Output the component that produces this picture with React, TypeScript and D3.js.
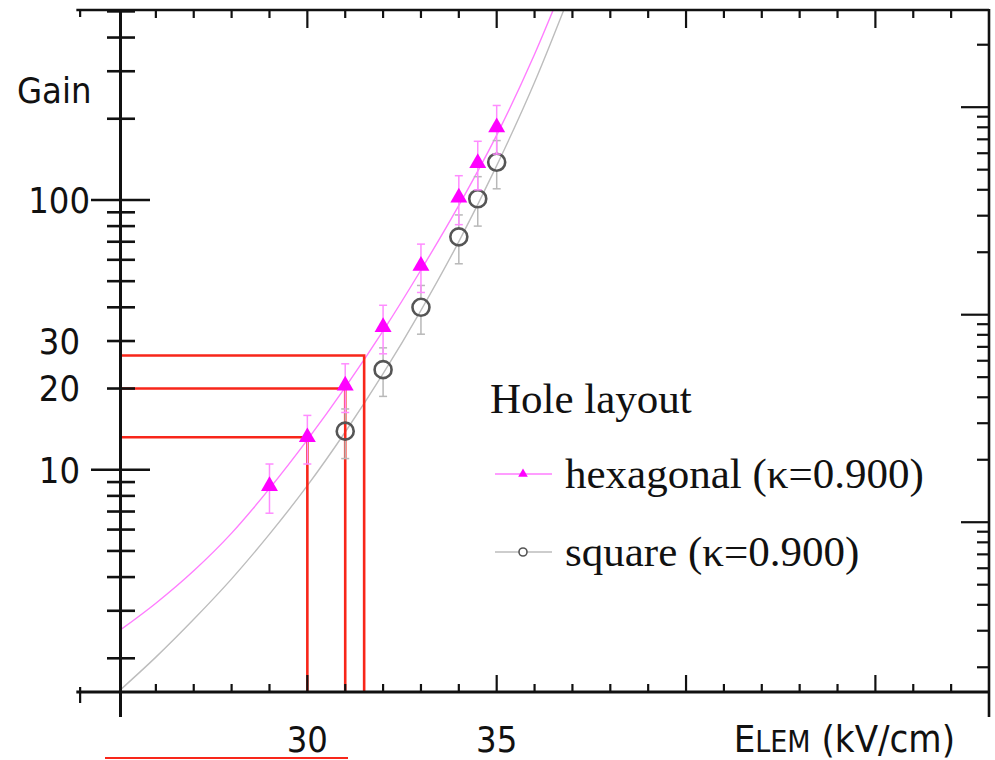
import React from "react";
import * as d3 from "d3";

// Measured points (E in kV/cm, gain)
const hexE = [29, 30, 31, 32, 33, 34, 34.5, 35];
const hexGain = [8.7, 13.2, 20.5, 33.8, 57, 102, 137, 186];
const hexErr = [1.8, 2.7, 4.2, 6.9, 11.6, 21, 28, 38];
const sqE = [31, 32, 33, 34, 34.5, 35];
const sqGain = [13.9, 23.5, 40, 73, 101, 138];
const sqErr = [2.9, 4.8, 8.2, 15, 21, 28];

// Fit curves
const fitE = [25, 26, 27, 28, 29, 30, 31, 32, 33, 34, 35, 36, 37];
const hexFit = [2.51, 3.2, 4.22, 5.82, 8.51, 12.9, 20.2, 32.7, 55.0, 95.5, 174, 347, 759];
const sqFit = [1.5, 2.02, 2.79, 3.94, 5.77, 8.73, 13.8, 22.7, 39.0, 70.1, 134, 273, 611];

// Red guide lines
const markE = [30, 31, 31.5];
const markGain = [13.2, 20, 26.5];

// Axes
const xTickValues = d3.range(24, 48);
const xMajorValues = [30, 35, 40, 45];
const xLabelValues = [30, 35];
const yLabelValues = [10, 20, 30, 100];
const yMajorValues = [10, 100];
const rightMajorValues = [1, 10, 100];

const legendTitle = "Hole layout";
const legendHex = "hexagonal (κ=0.900)";
const legendSq = "square (κ=0.900)";

const SANS = "'DejaVu Sans Condensed', 'DejaVu Sans', sans-serif";
const SERIF = "'Liberation Serif', 'Times New Roman', serif";

function logTicks(lo: number, hi: number) {
  const out: number[] = [];
  for (let d = -2; d <= 4; d++) {
    for (let m = 1; m <= 9; m++) {
      const v = m * Math.pow(10, d);
      if (v >= lo && v <= hi) out.push(v);
    }
  }
  return out;
}

export default function App() {
  const W = 995;
  const H = 760;
  const x = d3.scaleLinear().domain([25, 48]).range([118, 989]);
  const yL = d3.scaleLog().domain([1.5, 506]).range([692, 10]);
  const yR = d3.scaleLog().domain([0.152, 294]).range([692, 10]);

  const top = 10;
  const bottom = 692;
  const axisX = 120.5;
  const rightX = 989;
  const frameLeft = x(23.9);

  const line = d3
    .line<number>()
    .x((_, i) => x(fitE[i]))
    .curve(d3.curveMonotoneX);
  const hexPath = line.y((_, i) => yL(hexFit[i]))(hexFit as any) || "";
  const sqPath = line.y((_, i) => yL(sqFit[i]))(sqFit as any) || "";

  const leftTicks = logTicks(1.5, 506);
  const rightTicks = logTicks(0.152, 294);

  const tri = d3.symbol(d3.symbolTriangle, 125)() || "";
  const triSmall = d3.symbol(d3.symbolTriangle, 40)() || "";

  const hexErrColor = "#ff8cff";
  const sqErrColor = "#b8b8b8";
  const capW = 4;
  const circR = 8.5;

  return (
    <svg
      width={W}
      height={H}
      style={{ position: "absolute", left: 0, top: 0, background: "#fff" }}
    >
      <defs>
        <clipPath id="plotClip">
          <rect x={axisX} y={top} width={rightX - axisX} height={bottom - top} />
        </clipPath>
      </defs>
      <rect x={0} y={0} width={W} height={H} fill="#fff" />

      {/* fit curves */}
      <g clipPath="url(#plotClip)" fill="none">
        <path d={sqPath} stroke="#bdbdbd" strokeWidth={1.4} />
        <path d={hexPath} stroke="#ff7dff" strokeWidth={1.4} />
      </g>

      {/* red guide lines */}
      <g stroke="#f8261a" strokeWidth={2.6} fill="none">
        {markE.map((e, i) => (
          <path
            key={i}
            d={`M${axisX},${yL(markGain[i])}H${x(e)}V${bottom}`}
          />
        ))}
        <line x1={105} x2={348} y1={758} y2={758} strokeWidth={2.2} />
      </g>

      {/* square error bars + markers */}
      <g>
        {sqE.map((e, i) => {
          const cx = x(e);
          const cy = yL(sqGain[i]);
          const yt = yL(sqGain[i] + sqErr[i]);
          const yb = yL(sqGain[i] - sqErr[i]);
          return (
            <g key={i} stroke={sqErrColor} strokeWidth={1.5}>
              <line x1={cx} x2={cx} y1={yt} y2={cy - circR - 1} />
              <line x1={cx} x2={cx} y1={cy + circR + 1} y2={yb} />
              <line x1={cx - capW} x2={cx + capW} y1={yt} y2={yt} />
              <line x1={cx - capW} x2={cx + capW} y1={yb} y2={yb} />
            </g>
          );
        })}
        {sqE.map((e, i) => (
          <circle
            key={i}
            cx={x(e)}
            cy={yL(sqGain[i])}
            r={circR}
            fill="none"
            stroke="#555"
            strokeWidth={2.6}
          />
        ))}
      </g>

      {/* hexagonal error bars + markers */}
      <g>
        {hexE.map((e, i) => {
          const cx = x(e);
          const yt = yL(hexGain[i] + hexErr[i]);
          const yb = yL(hexGain[i] - hexErr[i]);
          return (
            <g key={i} stroke={hexErrColor} strokeWidth={1.5}>
              <line x1={cx} x2={cx} y1={yt} y2={yb} />
              <line x1={cx - capW} x2={cx + capW} y1={yt} y2={yt} />
              <line x1={cx - capW} x2={cx + capW} y1={yb} y2={yb} />
            </g>
          );
        })}
        {hexE.map((e, i) => (
          <path
            key={i}
            d={tri}
            transform={`translate(${x(e)},${yL(hexGain[i])})`}
            fill="#ff00ff"
          />
        ))}
      </g>

      {/* frame: top and bottom axes */}
      <g stroke="#111" fill="none">
        <line x1={frameLeft} x2={rightX} y1={top} y2={top} strokeWidth={2.5} />
        <line x1={frameLeft} x2={rightX} y1={bottom} y2={bottom} strokeWidth={3} />
        <line x1={rightX} x2={rightX} y1={top - 1} y2={717} strokeWidth={2.6} />
        {xTickValues.map((v) => {
          const major = xMajorValues.includes(v);
          const px = x(v);
          if (v === 24) {
            return (
              <g key={v} strokeWidth={2.2}>
                <line x1={px} x2={px} y1={bottom - 5} y2={bottom + 11} />
                <line x1={px} x2={px} y1={top} y2={top + 7} />
              </g>
            );
          }
          if (v === 25) return null;
          return (
            <g key={v} strokeWidth={2.2}>
              <line x1={px} x2={px} y1={bottom} y2={bottom - (major ? 17 : 8)} />
              <line x1={px} x2={px} y1={top} y2={top + (major ? 18 : 8)} />
            </g>
          );
        })}
        {/* right log axis */}
        {rightTicks.map((v, i) => {
          const major = rightMajorValues.includes(v);
          const py = yR(v);
          return (
            <line
              key={i}
              x1={rightX}
              x2={rightX - (major ? 28 : 12)}
              y1={py}
              y2={py}
              strokeWidth={2.2}
            />
          );
        })}
      </g>

      {/* left axis */}
      <g stroke="#111" fill="none">
        <line x1={axisX} x2={axisX} y1={top - 1} y2={717} strokeWidth={3} />
        {leftTicks.map((v, i) => {
          const major = yMajorValues.includes(v);
          const py = yL(v);
          return (
            <line
              key={i}
              x1={major ? 91 : 107}
              x2={major ? 150 : 135}
              y1={py}
              y2={py}
              strokeWidth={2.6}
            />
          );
        })}
      </g>
      <g fontFamily={SANS} fontSize={36} fill="#111">
        {yLabelValues.map((v) => (
          <text
            key={v}
            x={v >= 100 ? 90 : 80}
            y={yL(v)}
            dy="0.36em"
            textAnchor="end"
          >
            {v}
          </text>
        ))}
        <text x={17} y={103}>
          Gain
        </text>
        {xLabelValues.map((v) => (
          <text key={v} x={x(v)} y={752} textAnchor="middle">
            {v}
          </text>
        ))}
        <text x={955} y={752} textAnchor="end" fontSize={38}>
          E<tspan fontSize={30}>LEM</tspan> (kV/cm)
        </text>
      </g>

      {/* legend */}
      <g fontFamily={SERIF} fontSize={43} fill="#111">
        <text x={490} y={413}>
          {legendTitle}
        </text>
        <line x1={495} x2={552} y1={474} y2={474} stroke="#ff7dff" strokeWidth={1.4} />
        <path d={triSmall} transform="translate(523,474)" fill="#ff00ff" />
        <text x={565} y={488}>
          {legendHex}
        </text>
        <line x1={495} x2={552} y1={552} y2={552} stroke="#bdbdbd" strokeWidth={1.4} />
        <circle cx={523} cy={552} r={4} fill="#fff" stroke="#555" strokeWidth={1.6} />
        <text x={565} y={566}>
          {legendSq}
        </text>
      </g>
    </svg>
  );
}
